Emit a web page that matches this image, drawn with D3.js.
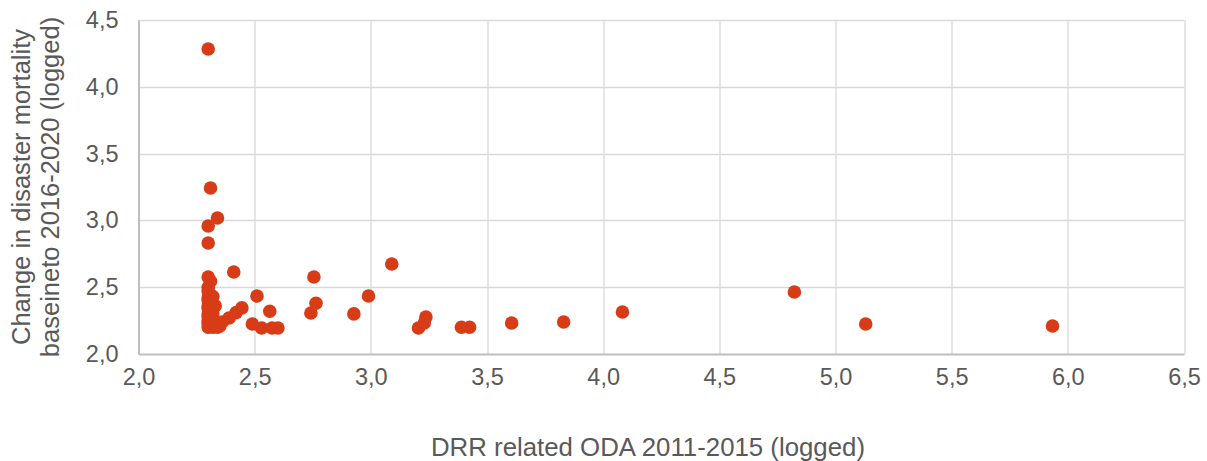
<!DOCTYPE html>
<html>
<head>
<meta charset="utf-8">
<script src="https://cdn.jsdelivr.net/npm/d3@7"></script>
<style>
  body { margin: 0; background: #fff; }
  text { font-family: "Liberation Sans", Arial, sans-serif; fill: #595959; }
</style>
</head>
<body>
<div class="chart"></div>
<script>
// ODA (logged) on x, change in mortality (logged) on y
var odaValues = [
  2.30, 2.31, 2.34, 2.30, 2.30, 2.41, 2.30, 2.31,
  2.30, 2.30, 2.31, 2.30, 2.32, 2.30, 2.31, 2.30, 2.33, 2.30, 2.31, 2.30,
  2.32, 2.30, 2.31, 2.30, 2.33, 2.30, 2.31, 2.30, 2.32, 2.34, 2.35, 2.33,
  2.36, 2.39, 2.42, 2.445, 2.51, 2.49, 2.53, 2.565, 2.575, 2.60,
  2.755, 2.764, 2.742, 2.927, 2.99, 3.09, 3.237, 3.23, 3.205,
  3.39, 3.425, 3.606, 3.83, 4.083, 4.823, 5.13, 5.934
];
var mortalityValues = [
  4.283, 3.243, 3.018, 2.958, 2.831, 2.614, 2.576, 2.545,
  2.50, 2.47, 2.44, 2.42, 2.43, 2.40, 2.38, 2.36, 2.36, 2.34, 2.32, 2.30,
  2.30, 2.28, 2.26, 2.25, 2.24, 2.23, 2.21, 2.20, 2.20, 2.20, 2.21, 2.22,
  2.24, 2.27, 2.31, 2.345, 2.434, 2.225, 2.195, 2.32, 2.195, 2.195,
  2.576, 2.38, 2.307, 2.30, 2.434, 2.674, 2.277, 2.232, 2.195,
  2.20, 2.20, 2.232, 2.24, 2.314, 2.464, 2.225, 2.21
];
var xTicks = [2.0, 2.5, 3.0, 3.5, 4.0, 4.5, 5.0, 5.5, 6.0, 6.5];
var yTicks = [2.0, 2.5, 3.0, 3.5, 4.0, 4.5];
var xTitle = 'DRR related ODA 2011-2015 (logged)';
var yTitleLines = ['Change in disaster mortality', 'baseineto 2016-2020 (logged)'];

var data = odaValues.map(function(v, i) { return { x: v, y: mortalityValues[i] }; });

var W = 1207, H = 461;
var margin = { top: 20, right: 23, bottom: 107, left: 138.5 };
var width = W - margin.left - margin.right,
    height = H - margin.top - margin.bottom;

var fmt = function(d) { return d3.format('.1f')(d).replace('.', ','); };

var x = d3.scaleLinear().domain([2, 6.5]).range([0, width]);
var y = d3.scaleLinear().domain([2, 4.5]).range([height, 0]);

var svg = d3.select('.chart')
  .append('svg')
    .attr('width', W)
    .attr('height', H)
  .append('g')
    .attr('transform', 'translate(' + margin.left + ',' + margin.top + ')');

// grid
svg.append('g')
  .attr('class', 'grid')
  .selectAll('line.h')
  .data(yTicks.slice(1))
  .enter().append('line')
    .attr('x1', 0).attr('x2', width)
    .attr('y1', function(d) { return Math.round(y(d)) + 0.5; })
    .attr('y2', function(d) { return Math.round(y(d)) + 0.5; })
    .attr('stroke', '#d9d9d9').attr('stroke-width', 1.3);

svg.append('g')
  .attr('class', 'grid')
  .selectAll('line.v')
  .data(xTicks.slice(1))
  .enter().append('line')
    .attr('y1', 0).attr('y2', height)
    .attr('x1', function(d) { return Math.round(x(d)) + 0.5; })
    .attr('x2', function(d) { return Math.round(x(d)) + 0.5; })
    .attr('stroke', '#d9d9d9').attr('stroke-width', 1.3);

// axes
var xAxis = svg.append('g')
  .attr('transform', 'translate(0,' + height + ')')
  .call(d3.axisBottom(x).tickValues(xTicks).tickFormat(fmt).tickSize(0).tickPadding(14));
xAxis.select('.domain').attr('stroke', '#bfbfbf').attr('stroke-width', 2);

var yAxis = svg.append('g')
  .call(d3.axisLeft(y).tickValues(yTicks).tickFormat(fmt).tickSize(0).tickPadding(20));
yAxis.select('.domain').attr('stroke', '#bfbfbf').attr('stroke-width', 2);

svg.selectAll('.tick text')
  .style('font-family', '"Liberation Sans", Arial, sans-serif')
  .style('font-size', '23.5px')
  .attr('fill', '#595959');

// points
svg.selectAll('circle')
  .data(data)
  .enter().append('circle')
    .attr('r', 6.8)
    .attr('cx', function(d) { return x(d.x); })
    .attr('cy', function(d) { return y(d.y); })
    .attr('fill', '#d83c17');

// x title
svg.append('text')
  .attr('x', 648 - margin.left)
  .attr('y', 456 - margin.top)
  .attr('text-anchor', 'middle')
  .style('font-size', '25.8px')
  .text(xTitle);

// y title, two lines rotated
var yt = svg.append('text')
  .attr('transform', 'rotate(-90)')
  .attr('text-anchor', 'middle')
  .style('font-size', '25.5px');
yt.selectAll('tspan')
  .data(yTitleLines)
  .enter().append('tspan')
    .attr('x', -(height / 2))
    .attr('y', function(d, i) { return -margin.left + 30 + i * 29; })
    .text(function(d) { return d; });
</script>
</body>
</html>
